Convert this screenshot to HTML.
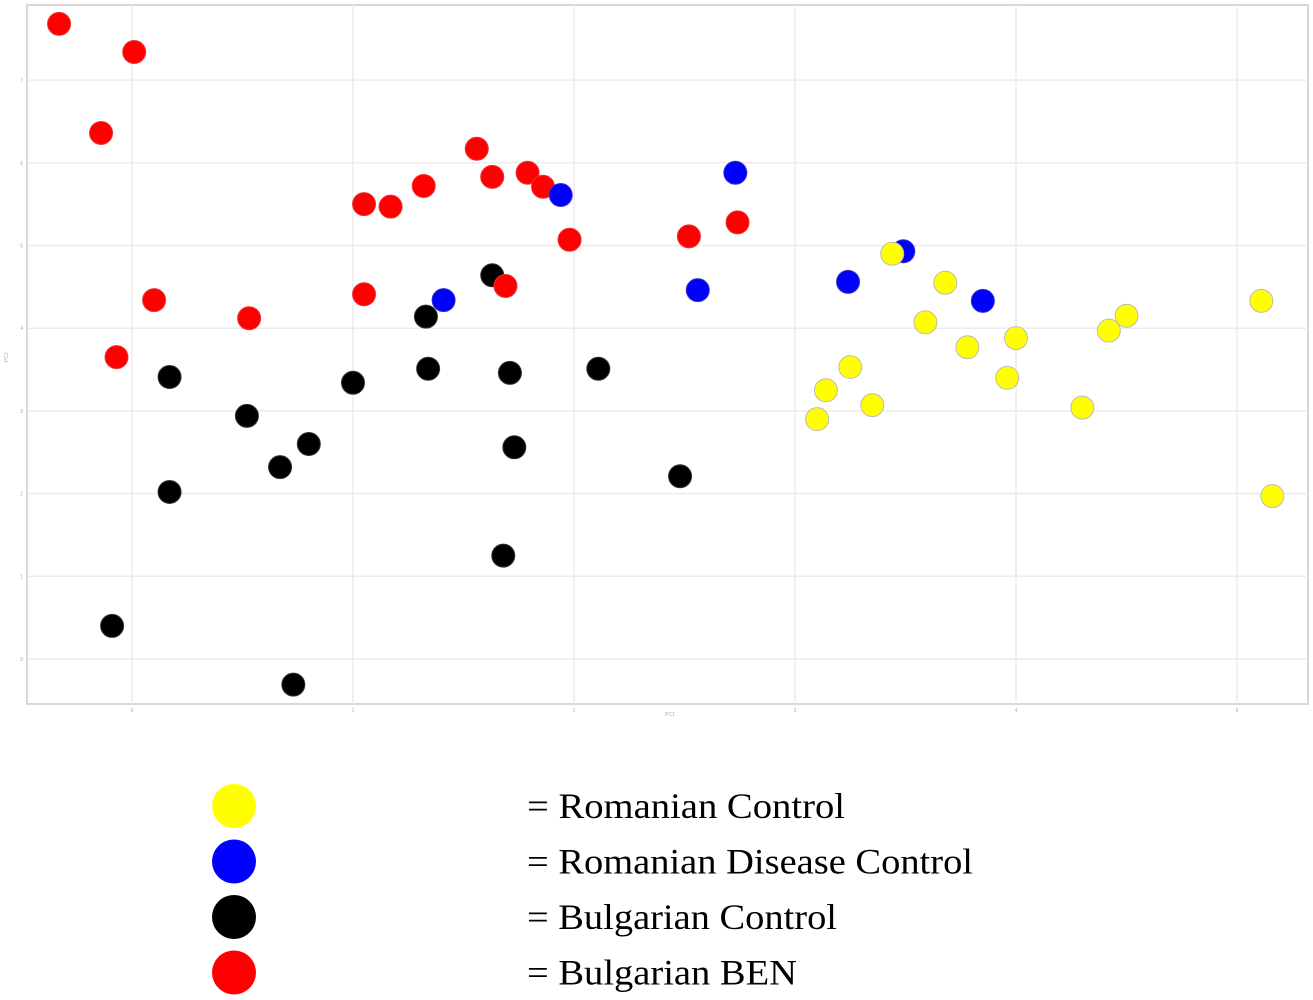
<!DOCTYPE html>
<html><head><meta charset="utf-8"><style>
html,body{margin:0;padding:0;background:#fff;}
svg{display:block;}
</style></head><body>
<svg id="chart" width="1313" height="1000" viewBox="0 0 1313 1000">
<rect x="27" y="5" width="1281" height="699" fill="#fff" stroke="#d8d8d8" stroke-width="2"/>
<g id="grid"></g>
<g id="ticks"></g>
<text x="665" y="716" font-size="5" fill="#aaa" font-family="Liberation Sans, sans-serif">PC1</text>
<text x="8" y="362" font-size="5" fill="#aaa" font-family="Liberation Sans, sans-serif" transform="rotate(-90 8 362)">PC2</text>
<g id="points"></g>
<g id="legend"></g>
</svg>
<script>
const xTicks=[0,1,2,3,4,5];
const yTicks=[0,1,2,3,4,5,6,7];
const redX=[-0.33,0.01,-0.14,0.10,0.53,-0.07,1.05,1.17,1.32,1.56,1.63,1.79,1.86,1.98,1.05,1.69,2.52,2.74];
const redY=[7.68,7.34,6.36,4.34,4.12,3.65,5.50,5.47,5.72,6.17,5.83,5.88,5.71,5.07,4.41,4.51,5.11,5.28];
const blueX=[1.94,2.73,1.41,2.56,3.24,3.49,3.85];
const blueY=[5.61,5.88,4.34,4.46,4.56,4.93,4.33];
const blackX=[1.63,1.33,0.17,1.34,1.71,2.11,1.00,0.52,0.80,0.67,1.73,0.17,2.48,1.68,-0.09,0.73];
const blackY=[4.64,4.14,3.41,3.51,3.46,3.51,3.34,2.94,2.60,2.32,2.56,2.02,2.21,1.25,0.40,-0.31];
const yellowX=[3.44,3.68,3.59,3.78,4.00,3.25,3.14,3.10,3.35,3.96,4.30,4.42,4.50,5.11,5.16];
const yellowY=[4.90,4.55,4.07,3.77,3.88,3.53,3.25,2.90,3.07,3.40,3.04,3.97,4.15,4.33,1.97];
const legendLabels=["= Romanian Control","= Romanian Disease Control","= Bulgarian Control","= Bulgarian BEN"];
const legendColors=["#ffff00","#0000ff","#000000","#ff0000"];
const legendWidths=[318,446,310,270];

const NS="http://www.w3.org/2000/svg";
const xs=v=>132+221*v;
const ys=v=>659-82.7*v;
function mk(tag,attrs,parent){const e=document.createElementNS(NS,tag);for(const k in attrs)e.setAttribute(k,attrs[k]);parent.appendChild(e);return e;}
const grid=document.getElementById('grid'),ticks=document.getElementById('ticks');
xTicks.forEach(t=>{
  const l=mk('line',{x1:xs(t),x2:xs(t),y1:5,y2:704,stroke:'#ececec','stroke-width':1.5},grid);
  
  
  const tx=mk('text',{x:xs(t),y:712,'font-size':5,fill:'#aaa','text-anchor':'middle','font-family':'Liberation Sans, sans-serif'},ticks);
  tx.textContent=t;
  
  
});
yTicks.forEach(t=>{
  const l=mk('line',{x1:27,x2:1308,y1:ys(t),y2:ys(t),stroke:'#ececec','stroke-width':1.5},grid);
  
  
  const tx=mk('text',{x:23,y:ys(t)+2,'font-size':5,fill:'#aaa','text-anchor':'end','font-family':'Liberation Sans, sans-serif'},ticks);
  tx.textContent=t;
  
  
});
const pts=document.getElementById('points');
function series(X,Y,fill,stroke,name){
  X.forEach((x,i)=>{
    const c=mk('circle',{cx:xs(x),cy:ys(Y[i]),r:11.5,fill:fill,stroke:stroke,'stroke-width':1},pts);
    
    
  });
}
series(blackX,blackY,'#000','#333','bulgarian-control-point');
series(redX,redY,'#ff0000','#e33','bulgarian-ben-point');
series(blueX,blueY,'#0000ff','#33c','romanian-disease-control-point');
series(yellowX,yellowY,'#ffff00','#bbb','romanian-control-point');
const lg=document.getElementById('legend');
legendLabels.forEach((lab,i)=>{
  const cy=806+55.5*i;
  const c=mk('circle',{cx:234,cy:cy,r:22,fill:legendColors[i]},lg);
  
  
  const t=mk('text',{x:527,y:cy+12,'font-size':36,fill:'#000','font-family':'Liberation Serif, serif',textLength:legendWidths[i],lengthAdjust:'spacingAndGlyphs'},lg);
  t.textContent=lab;
  
  
});
</script>
</body></html>
